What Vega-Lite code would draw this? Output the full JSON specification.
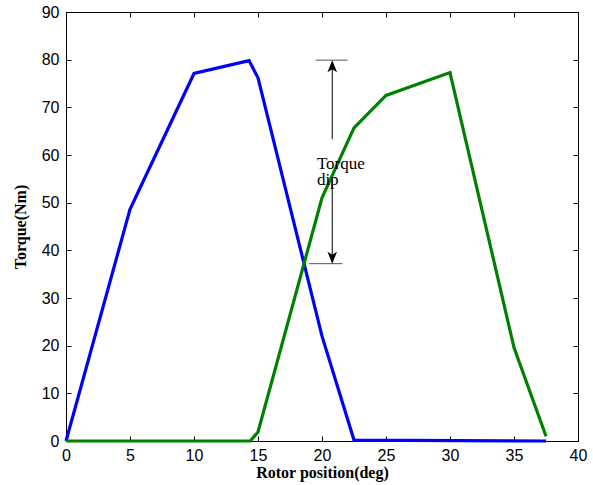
{
  "$schema": "https://vega.github.io/schema/vega-lite/v6.json",
  "width": 512,
  "height": 429,
  "autosize": "none",
  "padding": {"left": 66, "top": 12, "right": 15, "bottom": 44},
  "background": "white",
  "config": {
    "view": {"stroke": "black", "strokeWidth": 1},
    "axis": {
      "grid": false,
      "domainColor": "black",
      "tickColor": "black",
      "labelColor": "black",
      "labelFont": "Liberation Sans",
      "labelFontSize": 16,
      "labelFlush": false,
      "tickSize": -5,
      "titleFont": "Liberation Serif",
      "titleFontWeight": "bold",
      "titleFontSize": 16,
      "titleColor": "black"
    }
  },
  "datasets": {
    "curves": [
      {"deg": 0, "torque": 0, "phase": "A"},
      {"deg": 5, "torque": 48.6, "phase": "A"},
      {"deg": 10, "torque": 77.1, "phase": "A"},
      {"deg": 14.3, "torque": 79.8, "phase": "A"},
      {"deg": 15, "torque": 76.2, "phase": "A"},
      {"deg": 20, "torque": 22, "phase": "A"},
      {"deg": 22.5, "torque": 0.2, "phase": "A"},
      {"deg": 37.5, "torque": 0, "phase": "A"},
      {"deg": 0, "torque": 0, "phase": "B"},
      {"deg": 14.4, "torque": 0, "phase": "B"},
      {"deg": 15, "torque": 1.9, "phase": "B"},
      {"deg": 20, "torque": 51, "phase": "B"},
      {"deg": 22.5, "torque": 65.7, "phase": "B"},
      {"deg": 25, "torque": 72.5, "phase": "B"},
      {"deg": 30, "torque": 77.3, "phase": "B"},
      {"deg": 35, "torque": 19.6, "phase": "B"},
      {"deg": 37.5, "torque": 1, "phase": "B"}
    ],
    "rules": [
      {"x": 19.5, "x2": 22.0, "y": 79.9, "y2": 79.9, "c": "#555555"},
      {"x": 19.0, "x2": 21.6, "y": 37.2, "y2": 37.2, "c": "#555555"},
      {"x": 20.8, "x2": 20.8, "y": 79.5, "y2": 63.3, "c": "black"},
      {"x": 20.8, "x2": 20.8, "y": 55.3, "y2": 37.6, "c": "black"}
    ],
    "heads": [
      {"x": 20.8, "y": 79.9, "dir": "up"},
      {"x": 20.8, "y": 37.2, "dir": "down"}
    ],
    "labels": [
      {"x": 19.6, "y": 57.0, "t": "Torque"},
      {"x": 19.6, "y": 53.7, "t": "dip"}
    ]
  },
  "layer": [
    {
      "data": {"name": "curves"},
      "mark": {"type": "line", "strokeWidth": 3.2, "clip": false},
      "encoding": {
        "x": {
          "field": "deg", "type": "quantitative",
          "scale": {"domain": [0, 40], "nice": false},
          "axis": {"orient": "bottom", "values": [0, 5, 10, 15, 20, 25, 30, 35, 40], "title": "Rotor position(deg)", "labelPadding": 11, "titlePadding": 1}
        },
        "y": {
          "field": "torque", "type": "quantitative",
          "scale": {"domain": [0, 90], "nice": false},
          "axis": {"orient": "left", "values": [0, 10, 20, 30, 40, 50, 60, 70, 80, 90], "title": "Torque(Nm)", "labelPadding": 12, "titlePadding": 13}
        },
        "color": {
          "field": "phase", "type": "nominal",
          "scale": {"domain": ["A", "B"], "range": ["#0000ff", "#008000"]},
          "legend": null
        }
      }
    },
    {
      "data": {"name": "rules"},
      "mark": {"type": "rule", "strokeWidth": 1},
      "encoding": {
        "x": {"field": "x", "type": "quantitative", "axis": {"orient": "top", "values": [0, 5, 10, 15, 20, 25, 30, 35, 40], "labels": false, "title": null}},
        "x2": {"field": "x2"},
        "y": {"field": "y", "type": "quantitative", "axis": {"orient": "right", "values": [0, 10, 20, 30, 40, 50, 60, 70, 80, 90], "labels": false, "title": null}},
        "y2": {"field": "y2"},
        "color": {"field": "c", "type": "nominal", "scale": null}
      }
    },
    {
      "data": {"name": "heads"},
      "mark": {"type": "point", "filled": true, "color": "black", "size": 144, "opacity": 1},
      "encoding": {
        "x": {"field": "x", "type": "quantitative", "axis": null},
        "y": {"field": "y", "type": "quantitative", "axis": null},
        "shape": {
          "field": "dir", "type": "nominal",
          "scale": {"domain": ["up", "down"], "range": ["M0,0L-0.8,2L0,1.5L0.8,2Z", "M0,0L-0.8,-2L0,-1.5L0.8,-2Z"]},
          "legend": null
        }
      }
    },
    {
      "data": {"name": "labels"},
      "mark": {"type": "text", "align": "left", "baseline": "alphabetic", "font": "Liberation Serif", "fontSize": 17, "color": "black"},
      "encoding": {
        "x": {"field": "x", "type": "quantitative", "axis": null},
        "y": {"field": "y", "type": "quantitative", "axis": null},
        "text": {"field": "t"}
      }
    }
  ]
}
